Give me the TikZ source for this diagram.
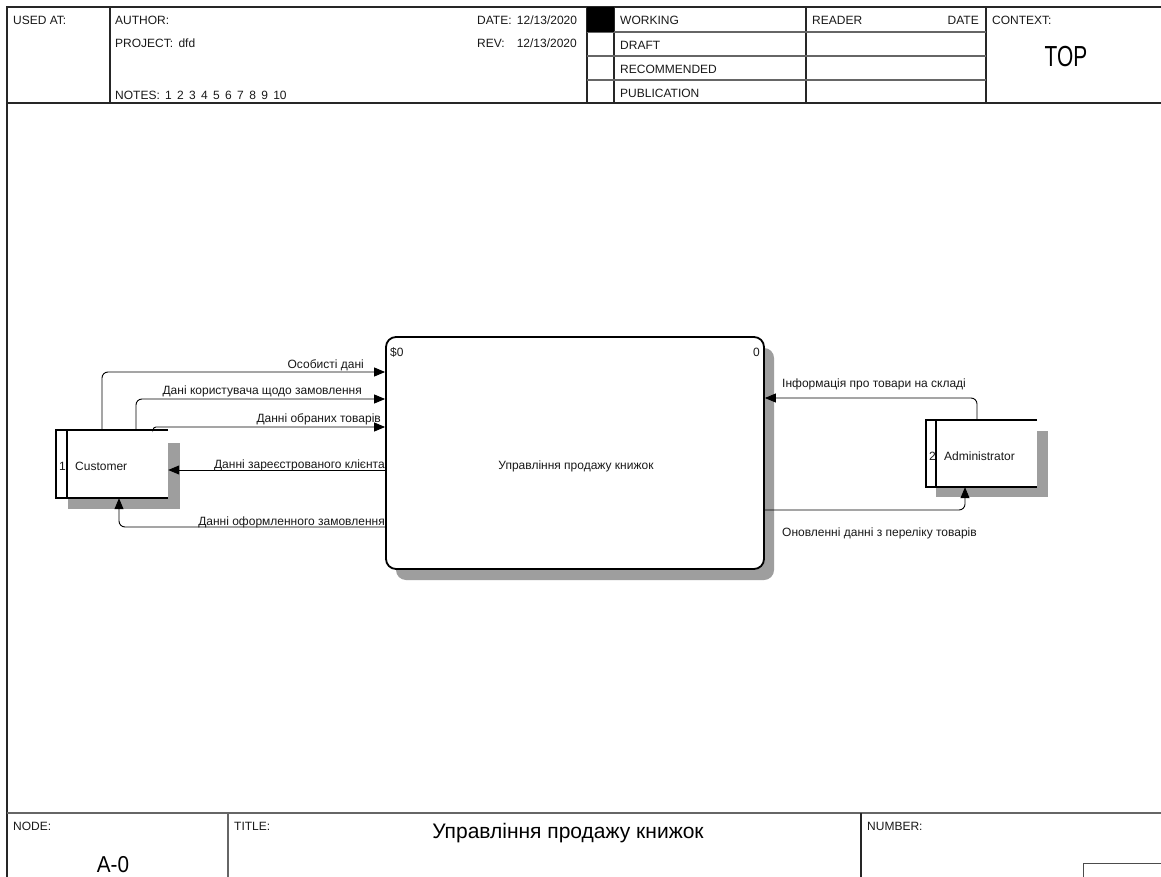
\documentclass[tikz,border=0pt]{standalone}
\usepackage{fontspec}
\setmainfont{Liberation Sans}
\usetikzlibrary{arrows.meta}
\begin{document}
\begin{tikzpicture}[x=1pt,y=-1pt,
  txt/.style={inner sep=0pt, font=\fontsize{12}{14}\selectfont, anchor=base west, text=black!90},
  rtxt/.style={txt, anchor=base east},
  grid/.style={line width=1.2pt, black!85},
  lgrid/.style={line width=1.2pt, black!60},
  flow/.style={line width=0.9pt, -{Triangle[length=11pt,width=9pt]}},
  shade/.style={fill=black!38},
  border/.style={line width=1.8pt},
  entity/.style={fill=white, inner sep=0pt, minimum width=112pt, minimum height=68pt}
]
\useasboundingbox (0,0) rectangle (1161,877);
\fill[white] (0,0) rectangle (1161,877);
\begin{scope}
\clip (0,0) rectangle (1161,877);
% ---------- frame & header ----------
\draw[grid] (7,877) -- (7,7) -- (1170,7);
\draw[grid] (7,103) -- (1170,103);
\foreach \x in {110,587,614,806,986} \draw[grid] (\x,7) -- (\x,103);
\foreach \y in {32,56,80} \draw[lgrid] (587,\y) -- (986,\y);
\fill[black] (587,7) rectangle (614,32);
\node[txt] (usedat) at (13,25) {USED AT:};
\node[txt] (author) at (115,25) {AUTHOR:};
\node[txt] (project) at (115,48) {PROJECT:\, dfd};
\node[txt] (notes) at (115,100) {NOTES:\, 1\, 2\, 3\, 4\, 5\, 6\, 7\, 8\, 9\, 10};
\node[txt] (date) at (477,25) {DATE:\, 12/13/2020};
\node[txt] (rev) at (477,48) {REV:\quad 12/13/2020};
\node[txt] (working) at (620,25) {WORKING};
\node[txt] (draft) at (620,50) {DRAFT};
\node[txt] (recom) at (620,74) {RECOMMENDED};
\node[txt] (publ) at (620,98) {PUBLICATION};
\node[txt] (reader) at (812,25) {READER};
\node[rtxt] (rdate) at (979,25) {DATE};
\node[txt] (context) at (992,25) {CONTEXT:};
\node[inner sep=0pt, anchor=base, font=\fontsize{29}{30}\selectfont, xscale=0.72, text=black] (top) at (1066,67) {TOP};
% ---------- footer ----------
\draw[lgrid] (7,813) -- (1170,813);
\draw[lgrid] (228,813) -- (228,880);
\draw[grid] (861,813) -- (861,880);
\draw[line width=1pt, black!70] (1083,880) -- (1083,863) -- (1170,863);
\node[txt] (nodelbl) at (13,830) {NODE:};
\node[txt] (titlelbl) at (234,830) {TITLE:};
\node[txt] (numlbl) at (867,830) {NUMBER:};
\node[inner sep=0pt, anchor=base, font=\fontsize{23}{24}\selectfont, xscale=0.9] (nodeid) at (113,872) {A-0};
\node[inner sep=0pt, anchor=base, font=\fontsize{21}{24}\selectfont] (title) at (568,838) {Управління продажу книжок};
\end{scope}
% ---------- process ----------
\fill[shade, rounded corners=10pt] (396,348) rectangle (774,580);
\node[draw, border, fill=white, rounded corners=10pt, minimum width=378pt, minimum height=232pt, inner sep=0pt] (proc) at (575,453) {};
\node[txt] (pid) at (390,356) {\$0};
\node[rtxt] (pnum) at (760,356) {0};
\node[txt, anchor=base] (pname) at (576,469) {Управління продажу книжок};
% ---------- Customer ----------
\fill[shade] (68,443) rectangle (180,509);
\node[entity] (cust) at (112,464) {};
\draw[border] (cust.north east) -- (cust.north west) -- (cust.south west) -- (cust.south east);
\draw[border] (cust.north -| 67,0) -- (cust.south -| 67,0);
\node[txt] (custnum) at (59,470) {1};
\node[txt] (custname) at (75,470) {Customer};
% ---------- Administrator ----------
\fill[shade] (936,431) rectangle (1048,497);
\node[entity, minimum width=111pt, minimum height=67pt] (admin) at (981.5,453.5) {};
\draw[border] (admin.north east) -- (admin.north west) -- (admin.south west) -- (admin.south east);
\draw[border] (admin.north -| 936,0) -- (admin.south -| 936,0);
\node[txt] (adminnum) at (929,460) {2};
\node[txt] (adminname) at (944,460) {Administrator};
% ---------- flows ----------
\draw[flow, rounded corners=6pt] (cust.north -| 102,0) |- (proc.west |- 0,372);
\node[rtxt] (l1) at (364,368) {Особисті дані};
\draw[flow, rounded corners=6pt] (cust.north -| 136,0) |- (proc.west |- 0,399);
\node[rtxt] (l2) at (362,394) {Дані користувача щодо замовлення};
\draw[flow, rounded corners=3pt] (cust.north -| 153,0) |- (proc.west |- 0,427);
\node[rtxt] (l3) at (381,422) {Данні обраних товарів};
\draw[flow] (proc.west |- 0,470) -- (cust.east |- 0,470);
\node[rtxt] (l4) at (385,468) {Данні зареєстрованого клієнта};
\draw[flow, rounded corners=6pt] (proc.west |- 0,527) -| (cust.south -| 119,0);
\node[rtxt] (l5) at (385,525) {Данні оформленного замовлення};
\draw[flow, rounded corners=6pt] (admin.north -| 977,0) |- (proc.east |- 0,398);
\node[txt] (l6) at (782,387) {Інформація про товари на складі};
\draw[flow, rounded corners=6pt] (proc.east |- 0,510) -| (admin.south -| 965,0);
\node[txt] (l7) at (782,536) {Оновленні данні з переліку товарів};
\end{tikzpicture}
\end{document}
